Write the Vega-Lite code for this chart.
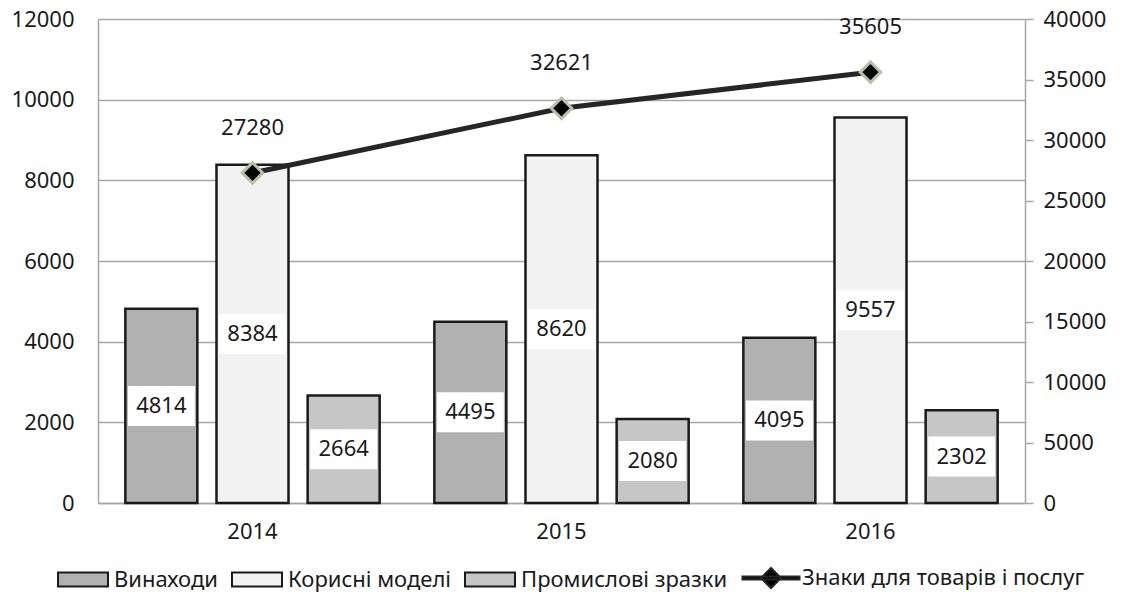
{
  "$schema": "https://vega.github.io/schema/vega-lite/v6.json",
  "width": 927,
  "height": 484,
  "autosize": {"type": "none"},
  "padding": {"left": 98, "top": 19, "right": 96, "bottom": 102},
  "background": "white",
  "config": {
    "view": {"stroke": null},
    "font": "Noto Sans",
    "axis": {"labelFont": "Noto Sans", "labelFontSize": 22, "labelColor": "#1a1a1a", "titleFont": "Noto Sans", "labelOverlap": false},
    "legend": {"labelFont": "Noto Sans"}
  },
  "datasets": {
    "bars": [
      {"year": "2014", "series": "Винаходи", "value": 4814},
      {"year": "2014", "series": "Корисні моделі", "value": 8384},
      {"year": "2014", "series": "Промислові зразки", "value": 2664},
      {"year": "2015", "series": "Винаходи", "value": 4495},
      {"year": "2015", "series": "Корисні моделі", "value": 8620},
      {"year": "2015", "series": "Промислові зразки", "value": 2080},
      {"year": "2016", "series": "Винаходи", "value": 4095},
      {"year": "2016", "series": "Корисні моделі", "value": 9557},
      {"year": "2016", "series": "Промислові зразки", "value": 2302}
    ],
    "line": [
      {"year": "2014", "series": "Знаки для товарів і послуг", "value": 27280},
      {"year": "2015", "series": "Знаки для товарів і послуг", "value": 32621},
      {"year": "2016", "series": "Знаки для товарів і послуг", "value": 35605}
    ]
  },
  "encoding": {
    "x": {
      "field": "year", "type": "nominal",
      "scale": {"paddingInner": 0, "paddingOuter": 0},
      "axis": {"title": null, "labelAngle": 0, "ticks": false, "domainColor": "#a6a6a6", "domainWidth": 1.5, "labelPadding": 18}
    }
  },
  "layer": [
    {
      "data": {"name": "bars"},
      "mark": {"type": "bar", "stroke": "#1a1a1a", "strokeWidth": 2.5},
      "encoding": {
        "xOffset": {"field": "series", "type": "nominal", "scale": {"domain": ["Винаходи", "Корисні моделі", "Промислові зразки"], "paddingInner": 0.21, "paddingOuter": 0.3}},
        "y": {
          "field": "value", "type": "quantitative",
          "scale": {"domain": [0, 12000], "nice": false},
          "axis": {"title": null, "values": [0, 2000, 4000, 6000, 8000, 10000, 12000], "format": "d", "ticks": false, "labelPadding": 24, "domainColor": "#a6a6a6", "domainWidth": 1.5, "gridColor": "#a6a6a6", "gridWidth": 1.5, "grid": true}
        },
        "fill": {
          "field": "series", "type": "nominal",
          "scale": {
            "domain": ["Винаходи", "Корисні моделі", "Промислові зразки", "Знаки для товарів і послуг"],
            "range": ["#b0b0b0", "#f2f2f2", "#c6c6c6", "#000000"]
          },
          "legend": {
            "title": null,
            "orient": "none",
            "direction": "horizontal",
            "legendX": -41,
            "legendY": 533,
            "labelFontSize": 22,
            "labelLimit": 500,
            "labelColor": "#1a1a1a",
            "labelOffset": 5,
            "columnPadding": 10,
            "symbolSize": 2500,
            "symbolType": "M-1,-0.28H1V0.28H-1Z",
            "symbolStrokeWidth": 2,
            "encode": {
              "symbols": {
                "update": {
                  "opacity": {"value": 1},
                  "shape": {"signal": "datum.value === 'Знаки для товарів і послуг' ? 'M-1.14,-0.06H1.14V0.06H-1.14ZM0,-0.4L0.4,0L0,0.4L-0.4,0Z' : 'M-1,-0.28H1V0.28H-1Z'"}
                }
              }
            }
          }
        }
      }
    },
    {
      "data": {"name": "bars"},
      "encoding": {
        "xOffset": {"field": "series", "type": "nominal"},
        "y": {"field": "value", "type": "quantitative", "scale": {"domain": [0, 24000], "nice": false}, "axis": null}
      },
      "layer": [
        {"mark": {"type": "tick", "color": "white", "opacity": 1, "size": 67, "thickness": 40, "orient": "horizontal"}},
        {"mark": {"type": "text", "fontSize": 22, "color": "#1a1a1a", "baseline": "middle", "align": "center"}, "encoding": {"text": {"field": "value", "type": "quantitative", "format": "d"}}}
      ]
    },
    {
      "data": {"name": "line"},
      "encoding": {
        "y": {
          "field": "value", "type": "quantitative",
          "scale": {"domain": [0, 40000], "nice": false},
          "axis": {"orient": "right", "title": null, "values": [0, 5000, 10000, 15000, 20000, 25000, 30000, 35000, 40000], "format": "d", "grid": false, "ticks": true, "tickSize": 8, "tickColor": "#a6a6a6", "tickWidth": 1.5, "labelPadding": 10, "domainColor": "#a6a6a6", "domainWidth": 1.5}
        }
      },
      "layer": [
        {"mark": {"type": "line", "strokeWidth": 5}, "encoding": {"stroke": {"field": "series", "type": "nominal",
          "scale": {"domain": ["Винаходи", "Корисні моделі", "Промислові зразки", "Знаки для товарів і послуг"], "range": ["#1a1a1a", "#1a1a1a", "#1a1a1a", "#262626"]},
          "legend": {
            "title": null,
            "orient": "none",
            "direction": "horizontal",
            "legendX": -41,
            "legendY": 533,
            "labelFontSize": 22,
            "labelLimit": 500,
            "labelColor": "#1a1a1a",
            "labelOffset": 5,
            "columnPadding": 10,
            "symbolSize": 2500,
            "symbolType": "M-1,-0.28H1V0.28H-1Z",
            "symbolStrokeWidth": 2,
            "encode": {
              "symbols": {
                "update": {
                  "opacity": {"value": 1},
                  "shape": {"signal": "datum.value === 'Знаки для товарів і послуг' ? 'M-1.14,-0.06H1.14V0.06H-1.14ZM0,-0.4L0.4,0L0,0.4L-0.4,0Z' : 'M-1,-0.28H1V0.28H-1Z'"}
                }
              }
            }
          }}}},
        {"mark": {"type": "point", "shape": "diamond", "size": 420, "filled": true, "fill": "#000000", "stroke": "#b4c2a6", "strokeWidth": 3, "opacity": 1}},
        {"mark": {"type": "text", "fontSize": 22, "color": "#1a1a1a", "dy": -45, "baseline": "middle"}, "encoding": {"text": {"field": "value", "type": "quantitative", "format": "d"}}}
      ]
    }
  ],
  "resolve": {"scale": {"y": "independent"}}
}
